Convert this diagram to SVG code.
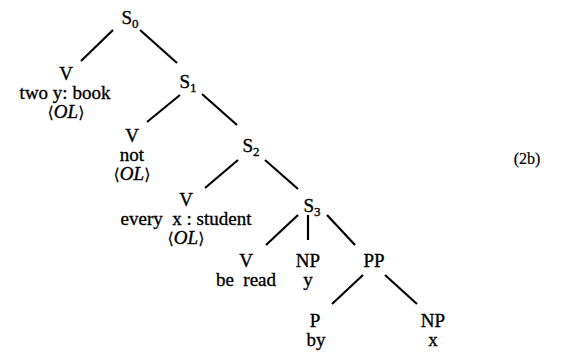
<svg xmlns="http://www.w3.org/2000/svg" width="567" height="353" viewBox="0 0 567 353">
<style>
text{font-family:"Liberation Serif","Times New Roman",serif;font-size:19px;fill:#000;stroke:#000;stroke-width:0.35;text-anchor:middle;white-space:pre}
.sub{font-size:13px}
.it{font-style:italic}
.br{font-family:"DejaVu Serif","Liberation Serif",serif;font-size:16px;stroke-width:0.2}
.num{font-size:16px;stroke-width:0.2}
#edges line{stroke:#000;stroke-width:2.2;stroke-linecap:butt}
</style>
<rect width="567" height="353" fill="#fff"/>
<g id="edges">
<line x1="113" y1="30" x2="81" y2="61"/>
<line x1="140" y1="30" x2="177" y2="63"/>
<line x1="180" y1="95" x2="147" y2="122"/>
<line x1="202" y1="94" x2="237" y2="125"/>
<line x1="238" y1="160" x2="205" y2="188"/>
<line x1="265" y1="160" x2="298" y2="189"/>
<line x1="298" y1="215" x2="266" y2="245"/>
<line x1="308" y1="215" x2="308" y2="240"/>
<line x1="327" y1="215" x2="355" y2="245"/>
<line x1="363" y1="275" x2="332" y2="304"/>
<line x1="385" y1="275" x2="417" y2="304"/>
</g>
<g id="S0"><text x="130" y="24">S<tspan class="sub" dy="4">0</tspan></text></g>
<g id="V1"><text x="66" y="80">V</text><text x="65" y="99" xml:space="preserve">two y: book</text><text x="66" y="118"><tspan class="br">⟨</tspan><tspan class="it">OL</tspan><tspan class="br">⟩</tspan></text></g>
<g id="S1"><text x="188" y="88">S<tspan class="sub" dy="4">1</tspan></text></g>
<g id="V2"><text x="132" y="142">V</text><text x="132" y="161">not</text><text x="132" y="180"><tspan class="br">⟨</tspan><tspan class="it">OL</tspan><tspan class="br">⟩</tspan></text></g>
<g id="S2"><text x="251" y="152">S<tspan class="sub" dy="4">2</tspan></text></g>
<g id="V3"><text x="186" y="206">V</text><text x="186" y="225" xml:space="preserve">every  x : student</text><text x="186" y="244"><tspan class="br">⟨</tspan><tspan class="it">OL</tspan><tspan class="br">⟩</tspan></text></g>
<g id="S3"><text x="312" y="212">S<tspan class="sub" dy="4">3</tspan></text></g>
<g id="V4"><text x="246" y="267">V</text><text x="246" y="286" xml:space="preserve">be  read</text></g>
<g id="NPy"><text x="308" y="267">NP</text><text x="308" y="286">y</text></g>
<g id="PP"><text x="374" y="267">PP</text></g>
<g id="P"><text x="315" y="327">P</text><text x="316" y="346">by</text></g>
<g id="NPx"><text x="433" y="327">NP</text><text x="433" y="346">x</text></g>
<g id="label"><text class="num" x="527" y="164">(2b)</text></g>
</svg>
